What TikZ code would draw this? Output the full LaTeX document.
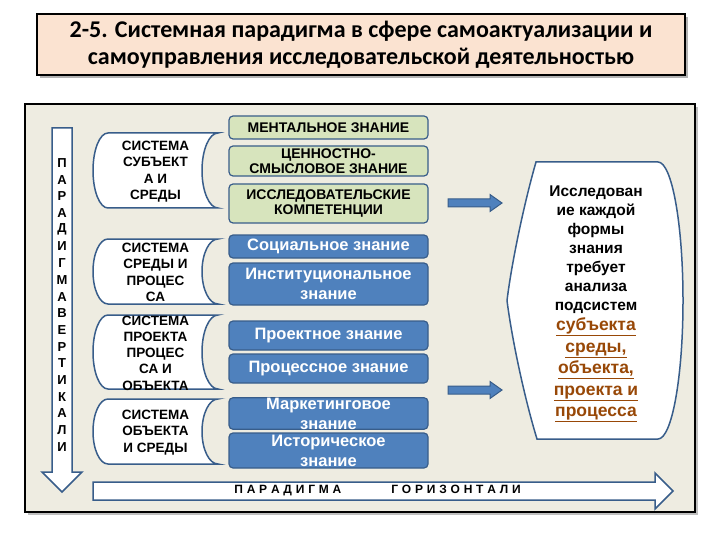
\documentclass[tikz,border=0pt]{standalone}
\usepackage{fontspec}
\setmainfont{Liberation Sans}
\newfontfamily\titlefont{Carlito}
\usetikzlibrary{shadows}
\definecolor{panelbg}{HTML}{EEECE1}
\definecolor{titlebg}{HTML}{FBE3D1}
\definecolor{greenbg}{HTML}{D7E4BD}
\definecolor{bluebg}{HTML}{4F81BD}
\definecolor{blueline}{HTML}{385D8A}
\definecolor{browntext}{HTML}{984807}
\begin{document}
\begin{tikzpicture}[x=1pt,y=-1pt,
  midbox/.style={rounded corners=4pt,line width=1.2pt,draw=blueline,
    minimum width=199pt,inner sep=0pt,align=center},
  greenbox/.style={midbox,fill=greenbg,font=\bfseries\fontsize{14}{15.5}\selectfont},
  bluebox/.style={midbox,fill=bluebg,text=white,font=\bfseries\fontsize{16.5}{20}\selectfont},
  sysline/.style={draw=blueline,line width=1.5pt,fill=white},
  systext/.style={align=center,inner sep=0pt,font=\bfseries\fontsize{13.5}{16.3}\selectfont},
  smallarrow/.style={draw=blueline,line width=1pt,fill=bluebg}]
  \useasboundingbox (0,0) rectangle (720,540);
  \node[draw,line width=1.5pt,fill=titlebg,drop shadow={opacity=0.6},minimum width=648pt,minimum height=61pt,
    align=center,font=\titlefont\bfseries\fontsize{24}{27}\selectfont] (title) at (361,44.5)
    {2-5. Системная парадигма в сфере самоактуализации и\\самоуправления исследовательской деятельностью};
  \draw[line width=2.5pt,fill=panelbg,drop shadow] (25,104) rectangle (695,512);
  \draw[sysline] (52,128) -- (72,128) -- (72,472) -- (82,472) -- (62,492) -- (42,472) -- (52,472) -- cycle;
  \foreach \l [count=\i] in {П,А,Р,А,Д,И,Г,М,А,В,Е,Р,Т,И,К,А,Л,И}
    \node[font=\bfseries\fontsize{13}{15}\selectfont,inner sep=0pt] (vert\i) at (62,146.3+16.7*\i) {\l};
  \draw[sysline] (93,482) -- (655,482) -- (655,473) -- (673,491) -- (655,509) -- (655,500) -- (93,500) -- cycle;
  \node[font=\bfseries\fontsize{12}{13}\selectfont,inner sep=0pt] (horiz) at (377.5,491)
    {\spaceskip=3.8pt\relax П А Р А Д И Г М А\hspace{50pt}Г О Р И З О Н Т А Л И};
  \foreach \t/\b/\txt/\nm in {133/208/{СИСТЕМА\\СУБЪЕКТ\\А И\\СРЕДЫ}/subj,
      239/304/{СИСТЕМА\\СРЕДЫ И\\ПРОЦЕС\\СА}/envproc,
      315/389/{СИСТЕМА\\ПРОЕКТА\\ПРОЦЕС\\СА И\\ОБЪЕКТА}/projobj,
      399/464/{СИСТЕМА\\ОБЪЕКТА\\И СРЕДЫ}/objenv}{
    \pgfmathsetmacro\m{(\t+\b)/2}
    \pgfmathsetmacro\k{0.552*(\b-\t)/2}
    \draw[sysline] (108,\t) -- (218,\t) .. controls (209.2,\t) and (202,\m-\k) .. (202,\m)
      .. controls (202,\m+\k) and (209.2,\b) .. (218,\b) -- (108,\b)
      .. controls (99.7,\b) and (93,\m+\k) .. (93,\m) .. controls (93,\m-\k) and (99.7,\t) .. cycle;
    \node[systext] (\nm) at (155.5,\m+1) {\txt};
  }
  \node[greenbox,minimum height=23pt] (mental) at (328.5,127.5) {МЕНТАЛЬНОЕ ЗНАНИЕ};
  \node[greenbox,minimum height=30pt] (value) at (328.5,161) {ЦЕННОСТНО-\\СМЫСЛОВОЕ ЗНАНИЕ};
  \node[greenbox,minimum height=39pt] (compet) at (328.5,203.5) {ИССЛЕДОВАТЕЛЬСКИЕ\\КОМПЕТЕНЦИИ};
  \node[bluebox,minimum height=23pt] (social) at (328.5,246.5) {Социальное знание};
  \node[bluebox,minimum height=42pt] (instit) at (328.5,284) {Институциональное\\знание};
  \node[bluebox,minimum height=29pt] (project) at (328.5,335.5) {Проектное знание};
  \node[bluebox,minimum height=29pt] (process) at (328.5,368.5) {Процессное знание};
  \node[bluebox,minimum height=29pt] (market) at (328.5,413.5) {Маркетинговое\\знание};
  \node[bluebox,minimum height=35pt] (history) at (328.5,450.5) {Историческое\\знание};
  \foreach \y in {203,390}
    \draw[smallarrow] (448,\y-4) -- (490,\y-4) -- (490,\y-8.5) -- (502,\y) -- (490,\y+8.5)
      -- (490,\y+4) -- (448,\y+4) -- cycle;
  \draw[sysline] (536,162) -- (658,162) .. controls (671.8,162) and (683,223.5) .. (683,300.5)
    .. controls (683,377.5) and (671.8,439) .. (658,439) -- (537,439)
    .. controls (525,400) and (512,340) .. (507,300.5) .. controls (512,260) and (525,200) .. cycle;
  \node[align=center,inner sep=0pt,font=\bfseries\fontsize{15.5}{19}\selectfont] (study) at (596,250)
    {Исследован\\ие каждой\\формы\\знания\\требует\\анализа\\подсистем};
  \node[align=center,inner sep=0pt,text=browntext,font=\bfseries\fontsize{17.5}{21.5}\selectfont] (subsys) at (596,370)
    {\underline{субъекта}\\\underline{среды,}\\\underline{объекта,}\\\underline{проекта и}\\\underline{процесса}};
\end{tikzpicture}
\end{document}
